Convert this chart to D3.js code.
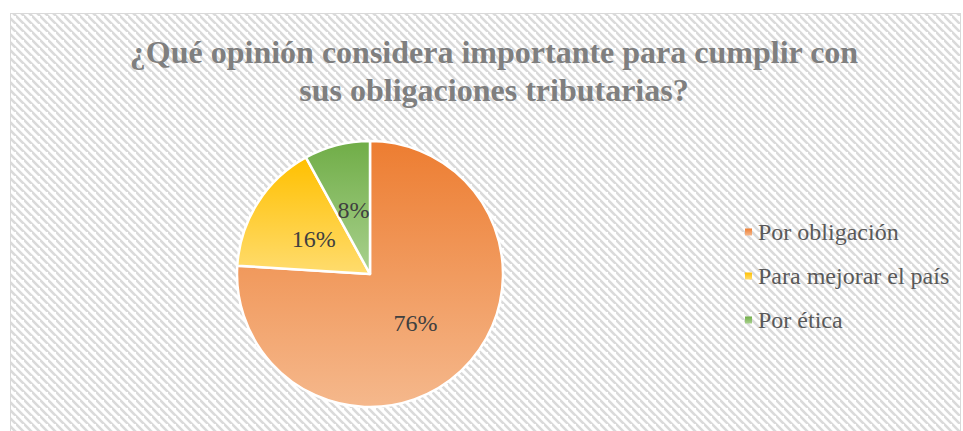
<!DOCTYPE html>
<html>
<head>
<meta charset="utf-8">
<script src="https://cdn.jsdelivr.net/npm/d3@7"></script>
<style>
  body { margin: 0; background: #fff; }
  svg { display: block; }
</style>
</head>
<body>
<svg width="963" height="431"></svg>
<script>
// chart data
var categories = ["Por obligación", "Para mejorar el país", "Por ética"];
var values = [76, 16, 8];
var labels = ["76%", "16%", "8%"];
var titleLines = ["¿Qué opinión considera importante para cumplir con", "sus obligaciones tributarias?"];

var colorsTop = ["#ed7d31", "#ffc000", "#70ad47"];
var colorsBottom = ["#f5b88c", "#ffdc6e", "#a9d18e"];

var serif = "'Liberation Serif', 'Times New Roman', serif";

var svg = d3.select("svg"),
  width = +svg.attr("width"),
  height = +svg.attr("height");

var defs = svg.append("defs");

// diagonal hatch background
var pat = defs.append("pattern")
    .attr("id", "hatch")
    .attr("patternUnits", "userSpaceOnUse")
    .attr("width", 8)
    .attr("height", 8);
pat.append("rect").attr("width", 8).attr("height", 8).attr("fill", "#fff");
pat.append("path")
    .attr("d", "M-2,-2 L10,10 M-6,2 L2,10 M6,-6 L14,2")
    .attr("stroke", "#dadada")
    .attr("stroke-width", 2.6);

categories.forEach(function(c, i) {
  var gr = defs.append("linearGradient")
      .attr("id", "grad" + i)
      .attr("x1", 0).attr("y1", 0).attr("x2", 0).attr("y2", 1);
  gr.append("stop").attr("offset", "0%").attr("stop-color", colorsTop[i]);
  gr.append("stop").attr("offset", "100%").attr("stop-color", colorsBottom[i]);
});

svg.append("rect")
    .attr("x", 10.5).attr("y", 13.5)
    .attr("width", 950).attr("height", 425)
    .attr("fill", "url(#hatch)")
    .attr("stroke", "#d9d9d9")
    .attr("stroke-width", 1);

// title
svg.append("text")
    .attr("text-anchor", "middle")
    .style("font-family", serif)
    .style("font-weight", "bold")
    .style("font-size", "32px")
    .attr("fill", "#7f7f7f")
  .selectAll("tspan")
  .data(titleLines)
  .enter().append("tspan")
    .attr("x", 494)
    .attr("y", function(d, i) { return 63 + i * 38; })
    .text(function(d) { return d; });

// pie
var cx = 370, cy = 274, r = 133;
var pie = d3.pie().sort(null).value(function(d) { return d; });
var arc = d3.arc().innerRadius(0).outerRadius(r);
var labelArc = d3.arc().innerRadius(r * 0.5).outerRadius(r * 0.5);
var arcs = pie(values);

var g = svg.append("g").attr("transform", "translate(" + cx + "," + cy + ")");

g.selectAll(".slice")
  .data(arcs)
  .enter().append("path")
    .attr("class", "slice")
    .attr("d", arc)
    .attr("fill", function(d, i) { return "url(#grad" + i + ")"; })
    .attr("stroke", "#fff")
    .attr("stroke-width", 2.5)
    .attr("stroke-linejoin", "round");

g.selectAll(".lbl")
  .data(arcs)
  .enter().append("text")
    .attr("class", "lbl")
    .attr("transform", function(d) { return "translate(" + labelArc.centroid(d) + ")"; })
    .attr("text-anchor", "middle")
    .attr("dy", "0.35em")
    .style("font-family", serif)
    .style("font-size", "24px")
    .attr("fill", "#404040")
    .text(function(d, i) { return labels[i]; });

// legend
var legend = svg.append("g").attr("transform", "translate(745,232)");
var item = legend.selectAll(".item")
  .data(categories)
  .enter().append("g")
    .attr("class", "item")
    .attr("transform", function(d, i) { return "translate(0," + (i * 44) + ")"; });

item.append("rect")
    .attr("x", 0).attr("y", -3.5)
    .attr("width", 7).attr("height", 7)
    .attr("fill", function(d, i) { return "url(#grad" + i + ")"; });

item.append("text")
    .attr("x", 13)
    .attr("dy", "0.35em")
    .style("font-family", serif)
    .style("font-size", "24px")
    .attr("fill", "#595959")
    .text(function(d) { return d; });
</script>
</body>
</html>
